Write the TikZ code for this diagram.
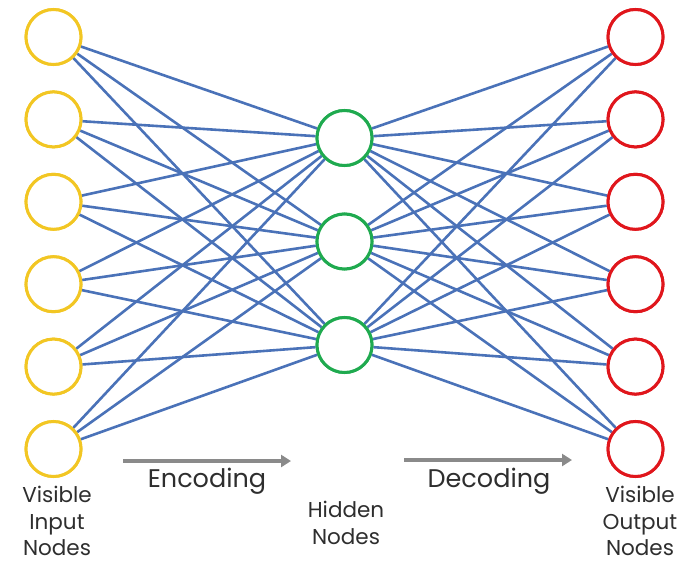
\documentclass[tikz,border=0pt]{standalone}
\usepackage{fontspec}
\setmainfont{Poppins}
\usetikzlibrary{arrows.meta}
\definecolor{inyel}{HTML}{F2C623}
\definecolor{hidgreen}{HTML}{1FAA4F}
\definecolor{outred}{HTML}{E0161C}
\definecolor{edgeblue}{HTML}{4A72B8}
\definecolor{arrowgray}{HTML}{8A8A8A}
\definecolor{txtgray}{HTML}{2E2E2E}
\begin{document}
\begin{tikzpicture}[x=1pt,y=-1pt,
  neuron/.style={circle,minimum size=55pt,inner sep=0pt,line width=3pt,fill=white},
  innode/.style={neuron,draw=inyel},
  hidnode/.style={neuron,draw=hidgreen},
  outnode/.style={neuron,draw=outred},
  edge/.style={edgeblue,line width=2.6pt},
  flow/.style={arrowgray,line width=4.5pt,-{Triangle[length=10pt,width=12pt]}},
  lbl/.style={text=txtgray,font=\fontsize{21.5}{26.5}\selectfont,align=center},
  flowlbl/.style={text=txtgray,font=\fontsize{25.5}{28}\selectfont}]
\useasboundingbox (0,0) rectangle (692,567);
\foreach \i in {1,...,6} {
  \node[innode] (i\i) at (53.5,{37+82.4*(\i-1)}) {};
  \node[outnode] (o\i) at (635.5,{37+82.4*(\i-1)}) {};
}
\node[hidnode] (h1) at (344.5,138) {};
\node[hidnode] (h2) at (344.5,241.5) {};
\node[hidnode] (h3) at (344.5,345) {};
\foreach \i in {1,...,6} {
  \foreach \j in {1,2,3} {
    \draw[edge] (i\i) -- (h\j);
    \draw[edge] (h\j) -- (o\i);
  }
}
\foreach \i in {1,...,6} {
  \node[innode] at (i\i) {};
  \node[outnode] at (o\i) {};
}
\foreach \j in {1,2,3} { \node[hidnode] at (h\j) {}; }
\coordinate (es) at (123,461);
\coordinate (ee) at (291,461);
\coordinate (ds) at (404,460);
\coordinate (de) at (572,460);
\draw[flow] (es) -- (ee);
\draw[flow] (ds) -- (de);
\node[flowlbl] (enc) at (207,481) {Encoding};
\node[flowlbl] (dec) at (489,481) {Decoding};
\node[lbl] (inl) at (57,521) {Visible\\Input\\Nodes};
\node[lbl] (hidl) at (346,523) {Hidden\\Nodes};
\node[lbl] (outl) at (640,521) {Visible\\Output\\Nodes};
\end{tikzpicture}
\end{document}
